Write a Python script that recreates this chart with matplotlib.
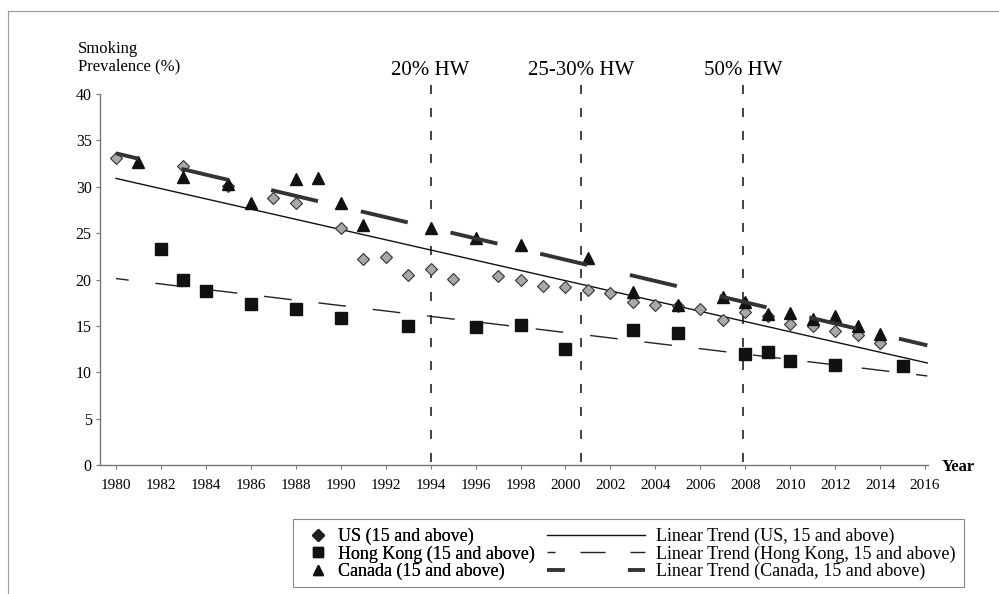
# Raucherquote US / Hong Kong / Kanada mit linearen Trends
import matplotlib
matplotlib.use("Agg")
import matplotlib.pyplot as plt
from matplotlib.lines import Line2D
from matplotlib.patches import Rectangle

plt.rcParams['font.family'] = ['Liberation Serif', 'DejaVu Serif']

# Daten
us_years = [1980, 1983, 1985, 1987, 1988, 1990, 1991, 1992, 1993, 1994, 1995, 1997, 1998,
            1999, 2000, 2001, 2002, 2003, 2004, 2005, 2006, 2007, 2008, 2009, 2010, 2011,
            2012, 2013, 2014]
us_vals = [33.1, 32.2, 30.1, 28.8, 28.2, 25.5, 22.2, 22.4, 20.5, 21.1, 20.1, 20.4, 20.0,
           19.3, 19.2, 18.9, 18.5, 17.6, 17.2, 17.1, 16.8, 15.6, 16.5, 16.1, 15.2, 15.0,
           14.4, 14.0, 13.1]

hk_years = [1982, 1983, 1984, 1986, 1988, 1990, 1993, 1996, 1998, 2000, 2003, 2005, 2008,
            2009, 2010, 2012, 2015]
hk_vals = [23.3, 19.9, 18.8, 17.4, 16.8, 15.8, 15.0, 14.9, 15.1, 12.5, 14.6, 14.2, 12.0,
           12.2, 11.2, 10.8, 10.7]

ca_years = [1981, 1983, 1985, 1986, 1988, 1989, 1990, 1991, 1994, 1996, 1998, 2001, 2003,
            2005, 2007, 2008, 2009, 2010, 2011, 2012, 2013, 2014]
ca_vals = [32.7, 31.1, 30.3, 28.2, 30.8, 30.9, 28.2, 25.9, 25.5, 24.5, 23.7, 22.3, 18.7,
           17.3, 18.1, 17.6, 16.3, 16.4, 15.7, 16.1, 15.0, 14.1]

# Trendlinien (Endpunkte)
trend_years = [1980, 2016.1]
us_trend = [30.9, 11.0]
hk_trend = [20.1, 9.6]
ca_trend = [33.6, 12.9]

# Warnhinweis-Einfuehrungen
hw_years = [1994, 2000.7, 2007.9]
hw_labels = ['20% HW', '25-30% HW', '50% HW']

W, H = 999, 594
fig = plt.figure(figsize=(W / 100, H / 100), dpi=100)
ax = fig.add_axes([100 / W, 1 - 465 / H, 828 / W, 371 / H])

# Trends
ax.plot(trend_years, us_trend, color='#111111', lw=1.0, zorder=2)
ax.plot(trend_years, hk_trend, color='#222222', lw=1.0,
        linestyle=(10.8, (20, 19.4)), zorder=2)
ax.plot(trend_years, ca_trend, color='#333333', lw=2.8,
        linestyle=(6.4, (12.4, 11.3)), zorder=4)

# Punkte
ax.plot(us_years, us_vals, linestyle='none', marker='D', ms=6.3,
        mfc='#a8a8a8', mec='#333333', mew=0.8, zorder=3)
ax.plot(hk_years, hk_vals, linestyle='none', marker='s', ms=9,
        mfc='#111111', mec='#111111', zorder=3)
ax.plot(ca_years, ca_vals, linestyle='none', marker='^', ms=9,
        mfc='#111111', mec='#111111', zorder=3)

# Vertikale Linien
for x, lab in zip(hw_years, hw_labels):
    ax.plot([x, x], [41.0, 0], color='#222222', lw=1.2,
            linestyle=(0, (5.4, 8.4)), clip_on=False, zorder=1)
    ax.text(x, 42.05, lab, ha='center', va='baseline', fontsize=15, clip_on=False)

ax.set_xlim(1979.29, 2016.13)
ax.set_ylim(0, 40)
ax.set_xticks(range(1980, 2017, 2))
ax.set_yticks(range(0, 41, 5))
ax.tick_params(axis='x', length=3, width=0.8, color='#777777', pad=7, labelsize=11)
ax.tick_params(axis='y', length=3, width=0.8, color='#777777', pad=3, labelsize=11.5)
for s in ['top', 'right']:
    ax.spines[s].set_visible(False)
for s in ['left', 'bottom']:
    ax.spines[s].set_color('#777777')
    ax.spines[s].set_linewidth(1.0)

fig.text(78 / W, 1 - 53 / H, 'Smoking', fontsize=12, va='baseline')
fig.text(78 / W, 1 - 70 / H, 'Prevalence (%)', fontsize=12, va='baseline')
fig.text(942 / W, 1 - 471 / H, 'Year', fontsize=12, fontweight='bold', va='baseline')

# Legende
mk_handles = [
    Line2D([], [], linestyle='none', marker='D', ms=6, mfc='#222222', mec='#222222'),
    Line2D([], [], linestyle='none', marker='s', ms=7, mfc='#111111', mec='#111111'),
    Line2D([], [], linestyle='none', marker='^', ms=7, mfc='#111111', mec='#111111'),
]
mk_labels = ['US (15 and above)', 'Hong Kong (15 and above)', 'Canada (15 and above)']
tr_handles = [
    Line2D([], [], color='#111111', lw=1.0),
    Line2D([], [], color='#222222', lw=1.0, linestyle=(12.2, (18, 18))),
    Line2D([], [], color='#333333', lw=2.8, linestyle=(0, (4.6, 16.2))),
]
tr_labels = ['Linear Trend (US, 15 and above)', 'Linear Trend (Hong Kong, 15 and above)',
             'Linear Trend (Canada, 15 and above)']

leg_y = 1 - 554 / H
leg1 = fig.legend(mk_handles, mk_labels, loc='center left', bbox_to_anchor=(311 / W, leg_y),
                  frameon=False, borderpad=0, borderaxespad=0, handlelength=0.75,
                  handletextpad=0.75, labelspacing=0.0, fontsize=13)
leg2 = fig.legend(tr_handles, tr_labels, loc='center left', bbox_to_anchor=(547 / W, leg_y),
                  frameon=False, borderpad=0, borderaxespad=0, handlelength=5.4,
                  handletextpad=0.65, labelspacing=0.0, fontsize=13)
fig.add_artist(leg1)

fig.add_artist(Rectangle((293 / W, 1 - 587 / H), 671 / W, 68 / H, transform=fig.transFigure,
                         fill=False, edgecolor='#888888', lw=0.8))
# Rahmen oben und links
fig.add_artist(Line2D([8 / W, 1], [1 - 11 / H, 1 - 11 / H], transform=fig.transFigure,
                      color='#999999', lw=0.8))
fig.add_artist(Line2D([8 / W, 8 / W], [0, 1 - 11 / H], transform=fig.transFigure,
                      color='#999999', lw=0.8))

fig.savefig('out.png', dpi=100)
